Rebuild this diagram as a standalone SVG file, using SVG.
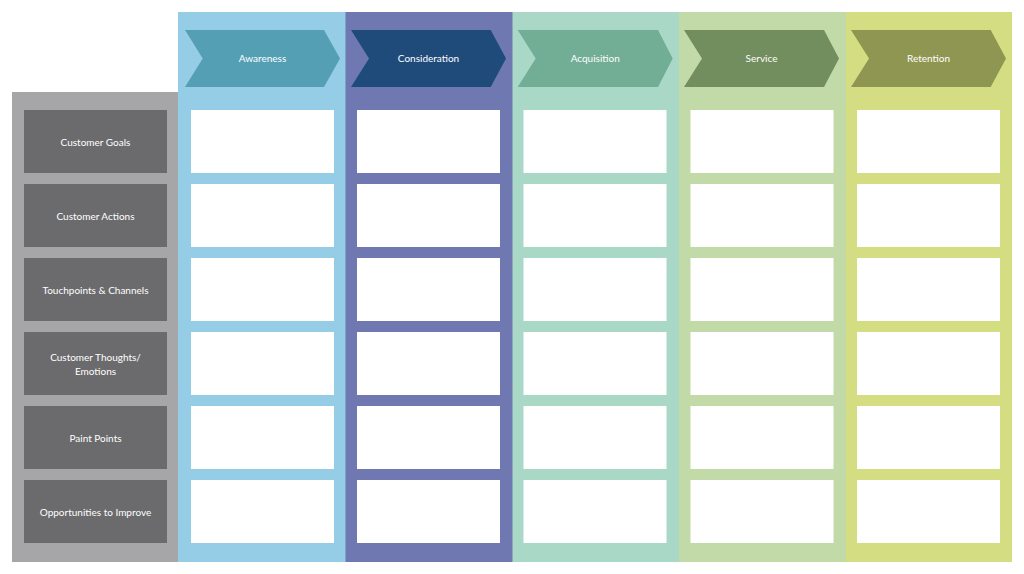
<svg xmlns="http://www.w3.org/2000/svg" width="1024" height="574" viewBox="0 0 1024 574">
<style>
.lbl{font-family:Lato,"Liberation Sans",sans-serif;font-size:10px;fill:#ffffff;text-anchor:middle;}
.cell{fill:#ffffff;}
.rowlbl{fill:#6b6b6d;}
</style>
<rect x="0" y="0" width="1024" height="574" fill="#ffffff"/>
<g id="left-panel">
<rect x="12" y="92" width="166" height="470" fill="#a6a6a8"/>
</g>
<g id="col-awareness">
<rect x="178" y="12" width="168" height="550" fill="#96cde6"/>
</g>
<g id="col-consideration">
<rect x="345.5" y="12" width="167.5" height="550" fill="#6f78b0"/>
</g>
<g id="col-acquisition">
<rect x="512.5" y="12" width="167" height="550" fill="#a9d8c7"/>
</g>
<g id="col-service">
<rect x="679" y="12" width="167.5" height="550" fill="#c2d9a8"/>
</g>
<g id="col-retention">
<rect x="846" y="12" width="166" height="550" fill="#d4dd82"/>
</g>
<g id="stage-awareness">
<polygon points="185,30 324,30 340,58.5 324,87 185,87 202.7,58.5" fill="#559fb5"/>
<text class="lbl" x="262.5" y="62">Awareness</text>
</g>
<g id="stage-consideration">
<polygon points="351,30 490.7,30 506,58.5 490.7,87 351,87 369,58.5" fill="#1f4b7a"/>
<text class="lbl" x="428.5" y="62">Consideration</text>
</g>
<g id="stage-acquisition">
<polygon points="517.7,30 658,30 672.7,58.5 658,87 517.7,87 535.7,58.5" fill="#72ad96"/>
<text class="lbl" x="595.2" y="62">Acquisition</text>
</g>
<g id="stage-service">
<polygon points="684,30 824,30 839,58.5 824,87 684,87 702,58.5" fill="#728d5e"/>
<text class="lbl" x="761.5" y="62">Service</text>
</g>
<g id="stage-retention">
<polygon points="851,30 990.7,30 1006,58.5 990.7,87 851,87 869,58.5" fill="#8f9652"/>
<text class="lbl" x="928.5" y="62">Retention</text>
</g>
<g id="row-goals">
<rect class="rowlbl" x="24" y="110" width="143" height="63"/>
<text class="lbl" x="95.5" y="145.5">Customer Goals</text>
</g>
<g id="row-actions">
<rect class="rowlbl" x="24" y="184" width="143" height="63"/>
<text class="lbl" x="95.5" y="219.5">Customer Actions</text>
</g>
<g id="row-touchpoints">
<rect class="rowlbl" x="24" y="258" width="143" height="63"/>
<text class="lbl" x="95.5" y="293.5">Touchpoints &amp; Channels</text>
</g>
<g id="row-thoughts">
<rect class="rowlbl" x="24" y="332" width="143" height="63"/>
<text class="lbl" x="95.5" y="361">Customer Thoughts/</text>
<text class="lbl" x="95.5" y="374.5">Emotions</text>
</g>
<g id="row-pain">
<rect class="rowlbl" x="24" y="406" width="143" height="63"/>
<text class="lbl" x="95.5" y="441.5">Paint Points</text>
</g>
<g id="row-opportunities">
<rect class="rowlbl" x="24" y="480" width="143" height="63"/>
<text class="lbl" x="95.5" y="515.5">Opportunities to Improve</text>
</g>
<g id="cells">
<rect class="cell" x="191" y="110" width="143" height="63"/>
<rect class="cell" x="191" y="184" width="143" height="63"/>
<rect class="cell" x="191" y="258" width="143" height="63"/>
<rect class="cell" x="191" y="332" width="143" height="63"/>
<rect class="cell" x="191" y="406" width="143" height="63"/>
<rect class="cell" x="191" y="480" width="143" height="63"/>
<rect class="cell" x="357" y="110" width="143" height="63"/>
<rect class="cell" x="357" y="184" width="143" height="63"/>
<rect class="cell" x="357" y="258" width="143" height="63"/>
<rect class="cell" x="357" y="332" width="143" height="63"/>
<rect class="cell" x="357" y="406" width="143" height="63"/>
<rect class="cell" x="357" y="480" width="143" height="63"/>
<rect class="cell" x="523.5" y="110" width="143" height="63"/>
<rect class="cell" x="523.5" y="184" width="143" height="63"/>
<rect class="cell" x="523.5" y="258" width="143" height="63"/>
<rect class="cell" x="523.5" y="332" width="143" height="63"/>
<rect class="cell" x="523.5" y="406" width="143" height="63"/>
<rect class="cell" x="523.5" y="480" width="143" height="63"/>
<rect class="cell" x="690.5" y="110" width="143" height="63"/>
<rect class="cell" x="690.5" y="184" width="143" height="63"/>
<rect class="cell" x="690.5" y="258" width="143" height="63"/>
<rect class="cell" x="690.5" y="332" width="143" height="63"/>
<rect class="cell" x="690.5" y="406" width="143" height="63"/>
<rect class="cell" x="690.5" y="480" width="143" height="63"/>
<rect class="cell" x="857" y="110" width="143" height="63"/>
<rect class="cell" x="857" y="184" width="143" height="63"/>
<rect class="cell" x="857" y="258" width="143" height="63"/>
<rect class="cell" x="857" y="332" width="143" height="63"/>
<rect class="cell" x="857" y="406" width="143" height="63"/>
<rect class="cell" x="857" y="480" width="143" height="63"/>
</g>
<g id="connectors"></g>
</svg>
